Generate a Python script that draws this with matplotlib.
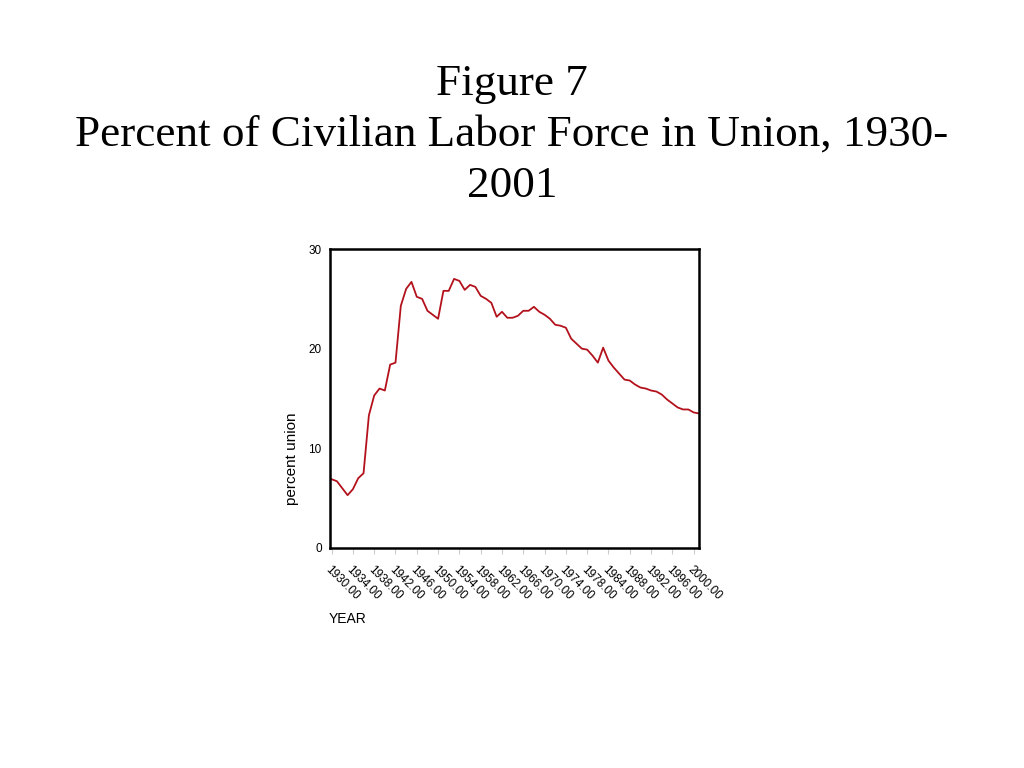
#!/usr/bin/env python3
"""Figure 7: Percent of civilian labor force in union, 1930-2001."""

import matplotlib
matplotlib.use('Agg')
import matplotlib.pyplot as plt
import numpy as np

# categories as they appear on the original category axis (some early-80s years absent)
years = list(range(1930, 1979)) + [1979, 1980, 1983] + list(range(1984, 2002))
pct_union = [
    6.9, 6.7, 6.0, 5.3, 5.9, 7.0, 7.5, 13.3, 15.3, 16.0,
    15.8, 18.4, 18.6, 24.3, 26.0, 26.7, 25.2, 25.0, 23.8, 23.4,
    23.0, 25.8, 25.8, 27.0, 26.8, 25.9, 26.4, 26.2, 25.3, 25.0,
    24.6, 23.2, 23.7, 23.1, 23.1, 23.3, 23.8, 23.8, 24.2, 23.7,
    23.4, 23.0, 22.4, 22.3, 22.1, 21.0, 20.5, 20.0, 19.9, 19.3,
    18.6, 20.1, 18.8, 18.1, 17.5, 16.9, 16.8, 16.4, 16.1, 16.0,
    15.8, 15.7, 15.4, 14.9, 14.5, 14.1, 13.9, 13.9, 13.6, 13.5,
]
tick_idx = list(range(0, len(years), 4))
tick_labels = [f'{years[i]:.2f}' for i in tick_idx]


def main():
    fig = plt.figure(figsize=(10.24, 7.68), dpi=100)
    fig.patch.set_facecolor('white')

    fig.text(0.5, 1 - 135 / 768, 'Figure 7\nPercent of Civilian Labor Force in Union, 1930-\n2001',
             ha='center', va='center', family='Liberation Serif', fontsize=32.5,
             linespacing=1.35)

    ax = fig.add_axes([330 / 1024, 1 - 548 / 768, 369 / 1024, 299 / 768])
    x = np.arange(len(years))
    ax.plot(x, pct_union, color='#b3121c', lw=1.3)
    ax.set_xlim(-0.3, len(years) - 1)
    ax.set_ylim(0, 30)

    for s in ax.spines.values():
        s.set_linewidth(1.8)
        s.set_color('black')

    ax.set_yticks([0, 10, 20, 30])
    ax.set_yticklabels(['0', '10', '20', '30'], family='Liberation Sans', fontsize=8.5)
    ax.tick_params(axis='y', length=0, pad=6)

    ax.set_xticks(tick_idx)
    ax.set_xticklabels(tick_labels, rotation=-45, ha='left', va='top',
                       rotation_mode='anchor', family='Liberation Sans', fontsize=8.5)
    ax.tick_params(axis='x', length=4, color='#cccccc', pad=7)

    fig.text(292 / 1024, 1 - 459 / 768, 'percent union', rotation=90,
             ha='center', va='center', family='Liberation Sans', fontsize=11)
    fig.text(329 / 1024, 1 - 619 / 768, 'YEAR', ha='left', va='center',
             family='Liberation Sans', fontsize=10)

    fig.savefig('out.png', dpi=100)
    plt.close(fig)


if __name__ == '__main__':
    main()
